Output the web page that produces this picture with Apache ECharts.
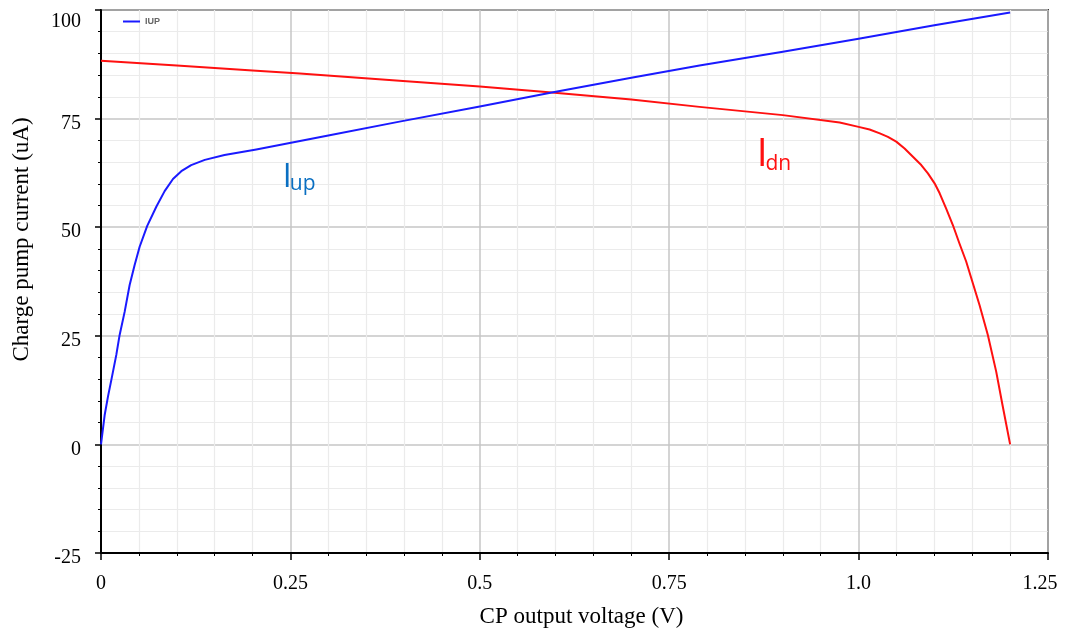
<!DOCTYPE html>
<html>
<head>
<meta charset="utf-8">
<script src="https://cdn.jsdelivr.net/npm/echarts@6/dist/echarts.min.js"></script>
<style>
  html, body { margin: 0; padding: 0; background: #fff; }
  #chart { width: 1065px; height: 633px; }
</style>
</head>
<body>
<div id="chart"></div>
<script>
// Charge pump output current vs. output voltage (uA vs V)
const upVoltage = [0, 0.0048, 0.0092, 0.0136, 0.0202, 0.0246, 0.0312, 0.0378, 0.0444, 0.051, 0.061, 0.073, 0.084, 0.095, 0.106, 0.119, 0.137, 0.163, 0.205, 0.3, 0.394, 0.5, 0.595, 0.7, 0.79, 0.9, 1.0, 1.1, 1.2];
const upCurrent = [0, 6.7, 11.0, 14.8, 20.6, 25.2, 30.5, 36.7, 41.3, 45.5, 50.3, 54.7, 58.3, 61.1, 62.9, 64.3, 65.5, 66.6, 67.9, 71.1, 74.3, 77.8, 81.0, 84.4, 87.2, 90.4, 93.4, 96.5, 99.4];

const dnVoltage = [0, 0.1, 0.2, 0.2625, 0.394, 0.5, 0.595, 0.7, 0.79, 0.9, 0.975, 1.0, 1.0145, 1.028, 1.0387, 1.0497, 1.0607, 1.0717, 1.0827, 1.0915, 1.1003, 1.107, 1.1156, 1.1244, 1.133, 1.142, 1.1508, 1.1596, 1.1706, 1.1817, 1.19, 1.2];
const dnCurrent = [88.3, 87.2, 86.1, 85.4, 83.7, 82.4, 81.0, 79.4, 77.7, 75.8, 74.1, 73.1, 72.5, 71.6, 70.8, 69.7, 68.1, 66.2, 64.3, 62.4, 60.1, 57.8, 54.3, 50.5, 46.3, 42.1, 37.1, 32.1, 25.2, 16.7, 9.0, 0];

const xTickLabels = ['0', '0.25', '0.5', '0.75', '1.0', '1.25'];
const yTickLabels = ['-25', '0', '25', '50', '75', '100'];

// Curve tags, anchored in data coordinates
const upTag = { big: 'I', sub: 'up', at: [0.240, 57.6] };
const dnTag = { big: 'I', sub: 'dn', at: [0.8654, 62.2] };

const pairs = (xs, ys) => xs.map((x, i) => [x, ys[i]]);

const serif = '"Liberation Serif", "Times New Roman", serif';
const sans = '"Open Sans", "Liberation Sans", sans-serif';
const chart = echarts.init(document.getElementById('chart'));

chart.setOption({
  animation: false,
  backgroundColor: '#fff',
  grid: {
    left: 101, top: 10, right: 17, bottom: 79,
    show: true, borderColor: '#3a3a3a', borderWidth: 2
  },
  legend: {
    data: ['IUP'],
    left: 118, top: 12,
    icon: 'rect', itemWidth: 17, itemHeight: 2, itemGap: 6,
    textStyle: { fontSize: 9, fontWeight: 'bold', color: '#666', fontFamily: '"Liberation Sans", Arial, sans-serif' }
  },
  xAxis: {
    type: 'value', min: 0, max: 1.25, interval: 0.25,
    name: 'CP output voltage (V)', nameLocation: 'middle', nameGap: 52,
    nameTextStyle: { fontFamily: serif, fontSize: 23, color: '#000', padding: [0, 0, 0, 14] },
    axisLine: { show: true, onZero: false, lineStyle: { color: '#000', width: 2 } },
    axisTick: { show: true, length: 7, lineStyle: { color: '#000', width: 1.5 } },
    minorTick: { show: true, splitNumber: 5, length: 3, lineStyle: { color: '#000', width: 1 } },
    axisLabel: {
      fontFamily: serif, fontSize: 20, color: '#000', margin: 21,
      formatter: v => {
        const s = xTickLabels[Math.round(v / 0.25)];
        return v === 1.25 ? '{last|' + s + '}' : s;
      },
      rich: { last: { fontFamily: serif, fontSize: 20, color: '#000', padding: [0, 16, 0, 0] } }
    },
    splitLine: { show: true, lineStyle: { color: '#c6c6c6', width: 1.5 } },
    minorSplitLine: { show: true, lineStyle: { color: '#ebebeb', width: 1.2 } }
  },
  yAxis: {
    type: 'value', min: -25, max: 100, interval: 25,
    name: 'Charge pump current (uA)', nameLocation: 'middle', nameGap: 68,
    nameTextStyle: { fontFamily: serif, fontSize: 23, color: '#000', padding: [0, 0, 0, 84] },
    axisLine: { show: true, onZero: false, lineStyle: { color: '#000', width: 2 } },
    axisTick: { show: true, length: 6, lineStyle: { color: '#000', width: 1.5 } },
    minorTick: { show: true, splitNumber: 5, length: 3, lineStyle: { color: '#000', width: 1 } },
    axisLabel: {
      fontFamily: serif, fontSize: 20, color: '#000', margin: 20,
      padding: [10, 0, 0, 0],
      formatter: v => {
        const s = yTickLabels[Math.round((v + 25) / 25)];
        return v === 100 ? '{top|' + s + '}' : s;
      },
      rich: { top: { fontFamily: serif, fontSize: 20, color: '#000', padding: [14, 0, 0, 0] } }
    },
    splitLine: { show: true, lineStyle: { color: '#c6c6c6', width: 1.5 } },
    minorSplitLine: { show: true, lineStyle: { color: '#ebebeb', width: 1.2 } }
  },
  series: [
    {
      name: 'IDN', type: 'line', data: pairs(dnVoltage, dnCurrent),
      showSymbol: false, smooth: false,
      lineStyle: { color: '#ff1010', width: 2, join: 'round' }, itemStyle: { color: '#ff1010' }
    },
    {
      name: 'IUP', type: 'line', data: pairs(upVoltage, upCurrent),
      showSymbol: false, smooth: false,
      lineStyle: { color: '#1a1aff', width: 2, join: 'round' }, itemStyle: { color: '#1a1aff' }
    }
  ]
});

// Place the curve tags at their data anchors
function tagText(tag, color, bigSize, subSize) {
  const p = chart.convertToPixel({ gridIndex: 0 }, tag.at);
  return {
    type: 'text', x: p[0], y: p[1],
    style: {
      text: '{b|' + tag.big + '}{s|' + tag.sub + '}',
      verticalAlign: 'bottom',
      rich: {
        b: { fontFamily: sans, fontSize: bigSize, fill: color, lineHeight: bigSize, verticalAlign: 'bottom' },
        s: { fontFamily: sans, fontSize: subSize, fill: color, lineHeight: bigSize, verticalAlign: 'bottom', padding: [0, 0, 0, -2] }
      }
    }
  };
}
chart.setOption({
  graphic: [
    tagText(upTag, '#0a6fc2', 32, 21),
    tagText(dnTag, '#ff1010', 39, 21)
  ]
});
</script>
</body>
</html>
